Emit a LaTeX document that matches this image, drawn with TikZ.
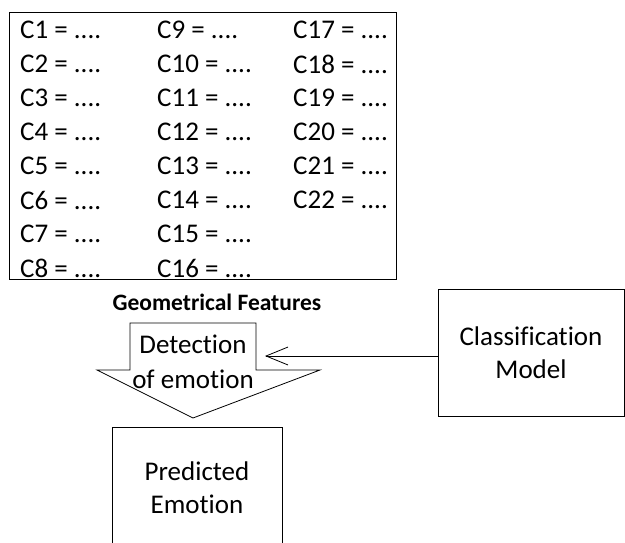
\documentclass[tikz,border=0pt]{standalone}
\usepackage{fontspec}
\setmainfont{Carlito}[Ligatures=NoCommon]
\usetikzlibrary {arrows.meta,
                 positioning}
\tikzset{
    cell/.style={text width=110pt, minimum height=33.6pt, inner sep=0pt, align=flush left},
    box/.style={draw, line width=0.8pt, align=center, inner sep=0pt},
    outline/.style={draw, line width=0.8pt, line join=miter},
    myarrow/.style={-{Straight Barb[length=22pt, width=18pt]}, line width=0.8pt},
 }
\begin{document}
\begin{tikzpicture}[x=1pt, y=-1pt, font=\fontsize{27}{33}\selectfont]
    \useasboundingbox (0,0) rectangle (625,543);

    \node[box, minimum width=387pt, minimum height=267pt] (table) at (202.5,145.5) {};

    \node[cell, anchor=west] (c1) at (20,30) {C1 = ....};
    \node[cell, below=0pt of c1] (c2) {C2 = ....};
    \node[cell, below=0pt of c2] (c3) {C3 = ....};
    \node[cell, below=0pt of c3] (c4) {C4 = ....};
    \node[cell, below=0pt of c4] (c5) {C5 = ....};
    \node[cell, below=0pt of c5] (c6) {C6 = ....};
    \node[cell, below=0pt of c6] (c7) {C7 = ....};
    \node[cell, below=0pt of c7] (c8) {C8 = ....};

    \node[cell, anchor=west] (c9) at (157,30) {C9 = ....};
    \node[cell, below=0pt of c9] (c10) {C10 = ....};
    \node[cell, below=0pt of c10] (c11) {C11 = ....};
    \node[cell, below=0pt of c11] (c12) {C12 = ....};
    \node[cell, below=0pt of c12] (c13) {C13 = ....};
    \node[cell, below=0pt of c13] (c14) {C14 = ....};
    \node[cell, below=0pt of c14] (c15) {C15 = ....};
    \node[cell, below=0pt of c15] (c16) {C16 = ....};

    \node[cell, anchor=west] (c17) at (293,30) {C17 = ....};
    \node[cell, below=0pt of c17] (c18) {C18 = ....};
    \node[cell, below=0pt of c18] (c19) {C19 = ....};
    \node[cell, below=0pt of c19] (c20) {C20 = ....};
    \node[cell, below=0pt of c20] (c21) {C21 = ....};
    \node[cell, below=0pt of c21] (c22) {C22 = ....};

    \node (feat) at (217,302) {\fontsize{23.5}{28}\selectfont\bfseries Geometrical Features};

    % detection arrow
    \draw[outline] (130,323) -- (256,323) -- (256,370) -- (320,370)
        -- (193,418) -- (97,370) -- (130,370) -- cycle;
    \node[align=center, inner sep=0pt] (detect) at (193,362) {Detection\\[2pt]of emotion};

    \node[box, minimum width=186pt, minimum height=127pt] (model) at (531,352.5)
        {Classification\\Model};
    \node[box, minimum width=170pt, minimum height=122pt] (pred) at (197,488)
        {Predicted\\Emotion};

    \coordinate (hit) at (265,356);
    \draw[myarrow] (model.west |- hit) -- (hit);

\end{tikzpicture}
\end{document}
